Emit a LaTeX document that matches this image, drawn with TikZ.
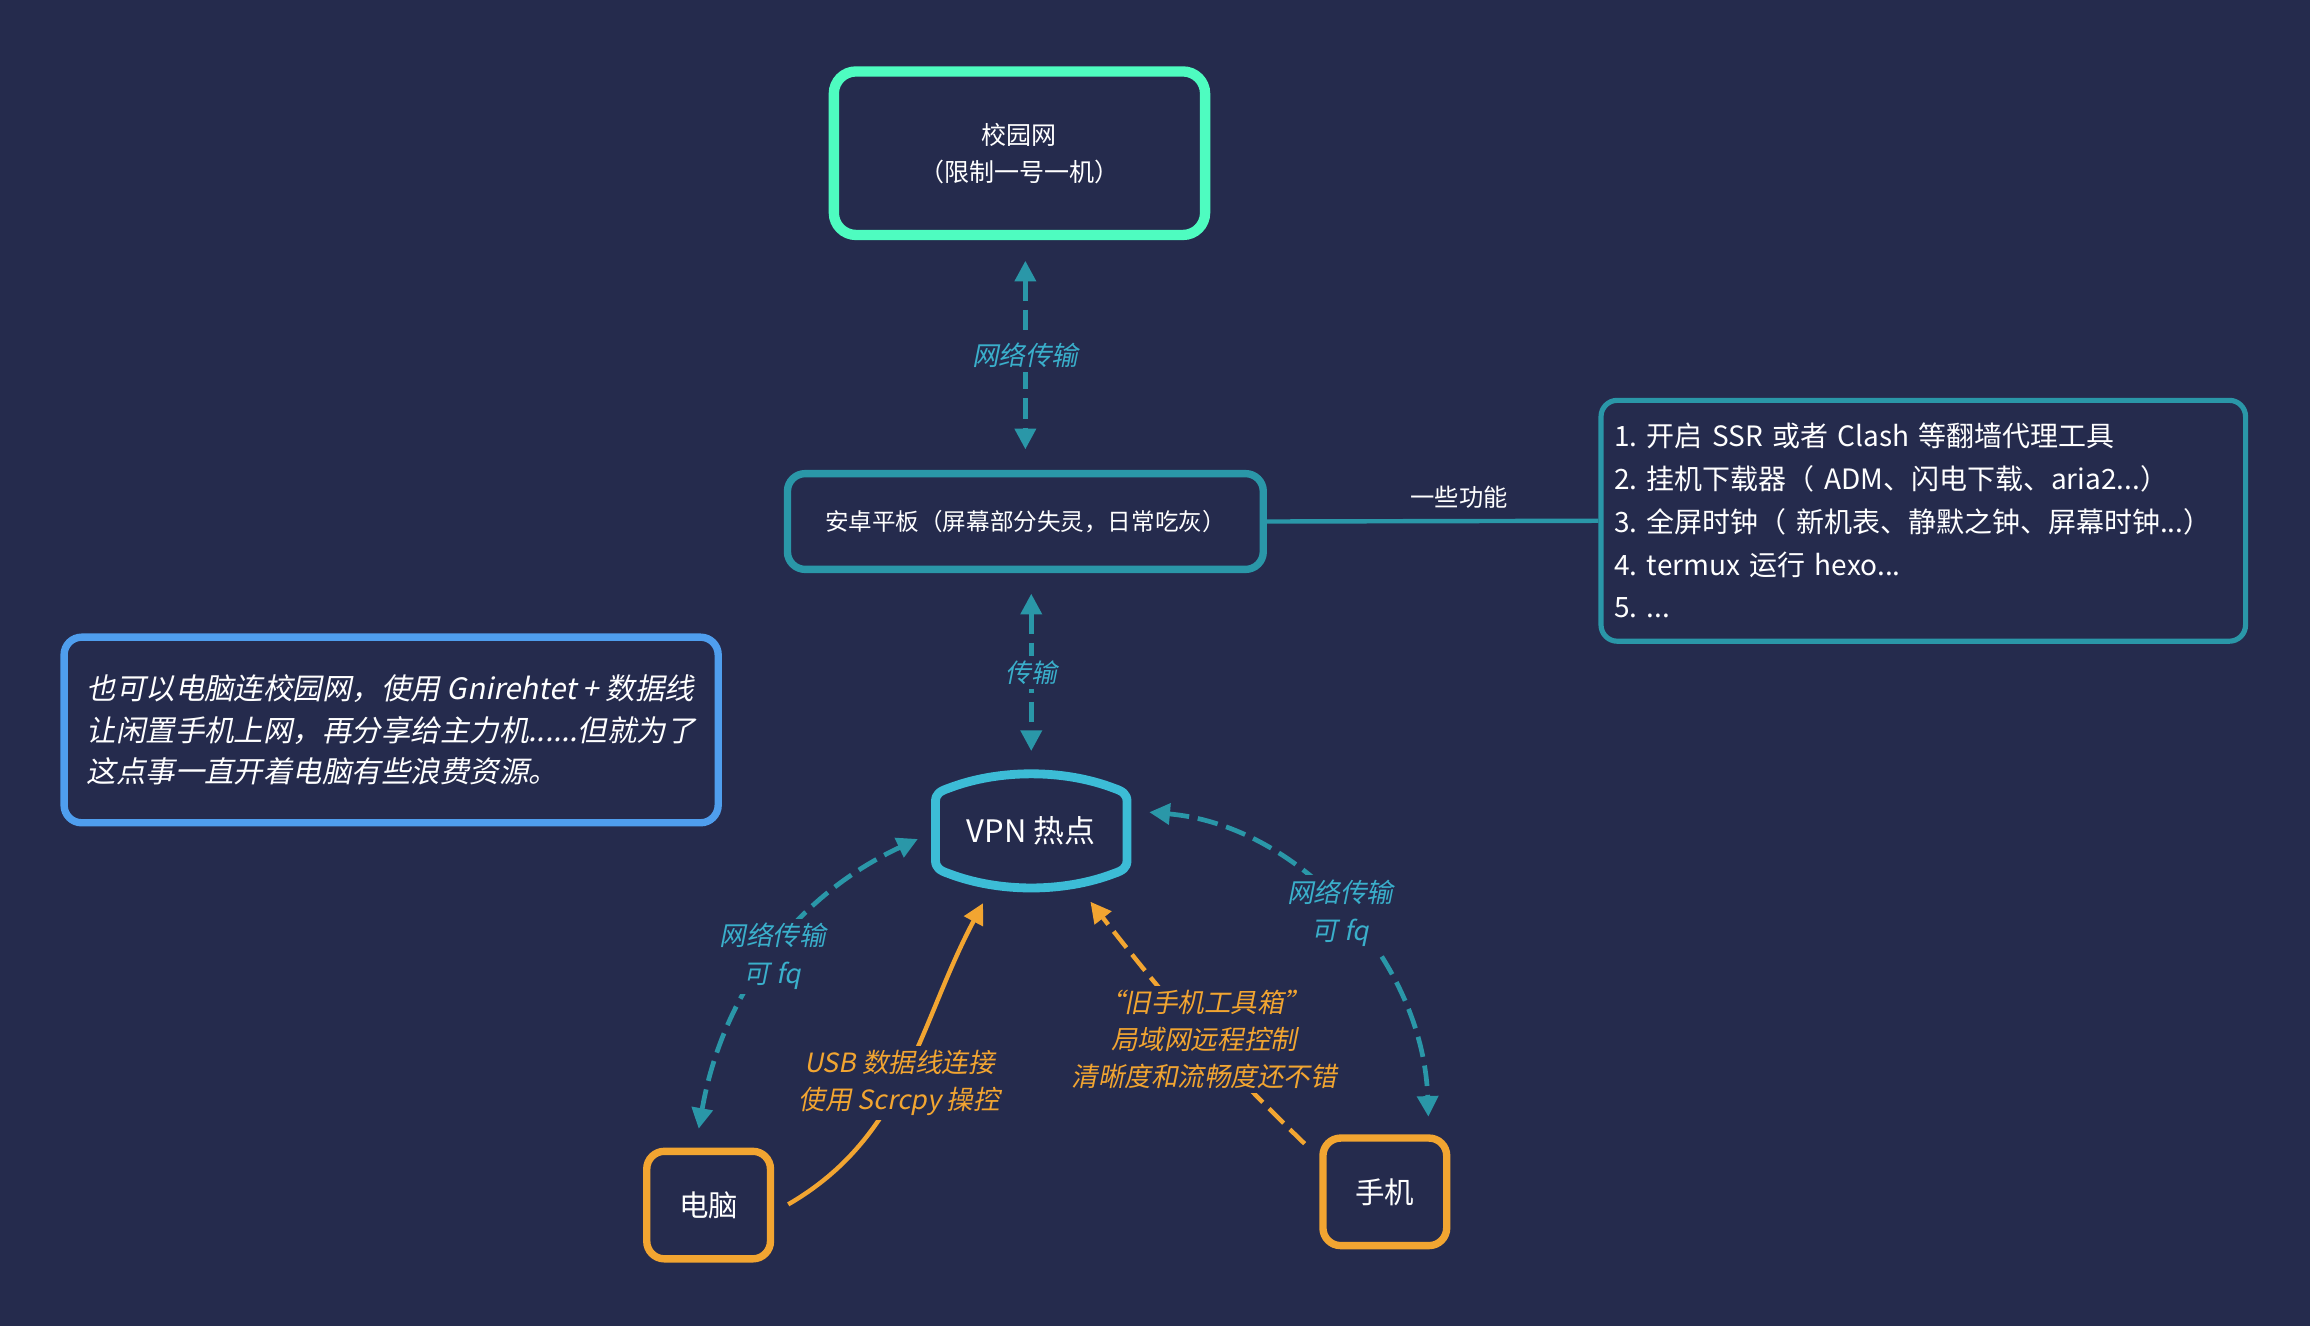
\documentclass[tikz,border=0pt]{standalone}
\usepackage{fontspec}
\setmainfont{Noto Sans CJK SC}[AutoFakeSlant=0.2]
\usetikzlibrary{arrows.meta}
\definecolor{bg}{HTML}{252B4D}
\definecolor{mint}{HTML}{4EFCC0}
\definecolor{boxteal}{HTML}{2A97A8}
\definecolor{hotcyan}{HTML}{3CBCD6}
\definecolor{labteal}{HTML}{3AAFCB}
\definecolor{amber}{HTML}{F2A531}
\definecolor{noteblue}{HTML}{4F9EEE}
\frenchspacing

\begin{document}
\begin{tikzpicture}[x=1pt, y=1pt,
		>={Triangle[length=14pt, width=14pt]},
		box/.style={draw, align=center, text=white, inner sep=0pt},
		netbox/.style={box, draw=mint, line width=7pt, rounded corners=15pt, minimum width=252pt, minimum height=111pt, font=\fontsize{17}{25}\selectfont},
		padbox/.style={box, draw=boxteal, line width=5pt, rounded corners=12pt, minimum width=323pt, minimum height=65pt, font=\fontsize{16}{20}\selectfont},
		infobox/.style={box, draw=boxteal, line width=3.5pt, rounded corners=11pt, minimum height=163.5pt, text width=419.5pt, inner xsep=9pt, align=left, font=\fontsize{19}{29}\selectfont},
		notebox/.style={box, draw=noteblue, line width=5pt, rounded corners=12pt, minimum width=444pt, minimum height=126pt, align=left, font=\itshape\fontsize{20}{28}\selectfont},
		devbox/.style={box, draw=amber, line width=5pt, rounded corners=12pt, minimum width=84pt, minimum height=73pt, font=\fontsize{20}{24}\selectfont},
		hotspot/.style={text=white, minimum width=130pt, minimum height=80pt, font=\fontsize{21}{24}\selectfont},
		link/.style={draw=boxteal, line width=3.2pt, dash pattern=on 14pt off 6pt, <->, shorten <=14pt, shorten >=14pt},
		usb/.style={draw=amber, line width=3pt, ->, shorten <=11pt, shorten >=10pt},
		remote/.style={usb, dash pattern=on 14pt off 6pt},
		tag/.style={fill=bg, inner sep=3pt, align=center, text=labteal, font=\itshape\fontsize{18}{26}\selectfont},
		otag/.style={tag, text=amber, font=\itshape\fontsize{18}{25}\selectfont}]

	\fill[bg] (0,0) rectangle (1568,900);
	\useasboundingbox (0,0) rectangle (1568,900);

	\node[netbox] (campus) at (692,796) {校园网\\（限制一号一机）};
	\node[padbox] (pad) at (696,546) {安卓平板（屏幕部分失灵，日常吃灰）};
	\node[infobox] (feat) at (1305.5,546.5) {1. 开启 SSR 或者 Clash 等翻墙代理工具\\2. 挂机下载器（ ADM、闪电下载、aria2...）\\3. 全屏时钟（ 新机表、静默之钟、屏幕时钟...）\\4. termux 运行 hexo...\\5. ...};
	\node[notebox] (note) at (265.5,404.5) {也可以电脑连校园网，使用 Gnirehtet + 数据线\\让闲置手机上网，再分享给主力机......但就为了\\这点事一直开着电脑有些浪费资源。};
	\node[hotspot] (vpn) at (700,336) {VPN 热点};
	\node[devbox] (pc) at (481,82) {电脑};
	\node[devbox] (phone) at (940,91) {手机};

	\begin{scope}[shift={(vpn.center)}]
		\draw[hotcyan, line width=6pt, line join=round] (-65,-20) -- (-65,20)
			.. controls (-65,25) and (-62,27) .. (-56,29)
			.. controls (-22,42) and (22,42) .. (56,29)
			.. controls (62,27) and (65,25) .. (65,20) -- (65,-20)
			.. controls (65,-25) and (62,-27) .. (56,-29)
			.. controls (22,-42) and (-22,-42) .. (-56,-29)
			.. controls (-62,-27) and (-65,-25) .. (-65,-20) -- cycle;
	\end{scope}

	\draw[link] (pad.north |- campus.south) -- node[tag] {网络传输} (pad.north);
	\draw[link] (vpn.north |- pad.south) -- node[tag, font=\itshape\fontsize{17.5}{20}\selectfont] {传输} (vpn.north);
	\draw[boxteal, line width=3pt] (pad.east) -- node[pos=0.58, above=4pt, text=white, font=\fontsize{16.5}{20}\selectfont] {一些功能} (feat.west);

	\draw[link, shorten <=13pt, shorten >=13pt] ([xshift=-9pt]pc.north) to[out=80, in=205] node[tag] {网络传输\\可 fq} (vpn.west);
	\draw[link, shorten <=15pt, shorten >=12pt] ([yshift=14pt]vpn.east) to[out=-5, in=92] node[tag] {网络传输\\可 fq} ([xshift=30pt]phone.north);
	\draw[usb] ([yshift=-5pt]pc.east) to[out=30, in=242] node[otag, pos=0.47] {USB 数据线连接\\使用 Scrcpy 操控} ([xshift=-28pt]vpn.south);
	\draw[remote] ([xshift=-2pt, yshift=-14pt]phone.north west) to[out=136, in=-52] node[otag, pos=0.45] {“旧手机工具箱”\\局域网远程控制\\清晰度和流畅度还不错} ([xshift=34pt]vpn.south);
\end{tikzpicture}
\end{document}
